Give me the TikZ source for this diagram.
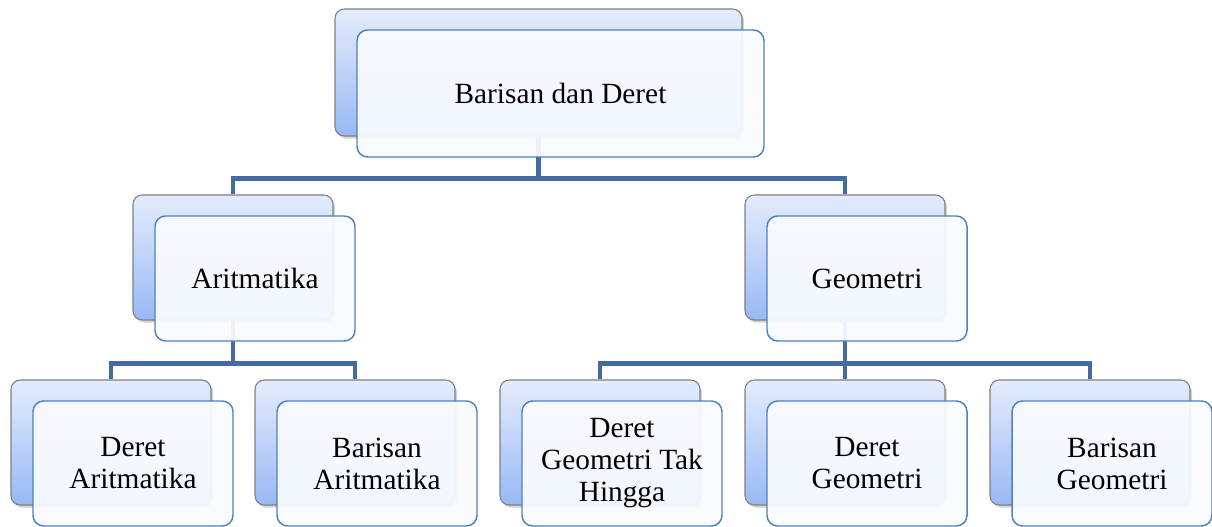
\documentclass[tikz,border=0pt]{standalone}
\usepackage{fontspec}
\setmainfont{Liberation Serif}
\usetikzlibrary{shadows}
\usetikzlibrary{backgrounds}
\definecolor{backtop}{RGB}{228,236,252}
\definecolor{backbot}{RGB}{152,185,246}
\definecolor{backline}{RGB}{128,128,128}
\definecolor{frontfill}{RGB}{249,251,255}
\definecolor{frontline}{RGB}{79,129,189}
\definecolor{linkcol}{RGB}{68,108,160}
\begin{document}
\begin{tikzpicture}[x=0.75pt,y=-0.75pt,
  back/.style={draw=backline, line width=0.8pt, rounded corners=7pt,
    top color=backtop, bottom color=backbot,
    minimum width=150pt, minimum height=93.75pt, inner sep=0pt,
    drop shadow={shadow xshift=1.5pt, shadow yshift=-2pt, opacity=0.35}},
  front/.style={draw=frontline, line width=1.1pt, rounded corners=8pt,
    fill=frontfill, fill opacity=0.93, text opacity=1,
    minimum width=150pt, minimum height=93.75pt, inner sep=0pt,
    align=center, font=\fontsize{22}{24}\selectfont,
    xshift=16.5pt, yshift=-15.75pt}, 
  link/.style={draw=linkcol, line width=3.6pt}]
  \useasboundingbox (0,0) rectangle (1212,527);
  % back boxes
  \node[back, minimum width=305.25pt, minimum height=95.25pt] (b0) at (538.5,72.5) {};
  \node[back] (b1) at (233,257.5) {};
  \node[back] (b2) at (845,257.5) {};
  \node[back] (b3) at (111,442.5) {};
  \node[back] (b4) at (355,442.5) {};
  \node[back] (b5) at (600,442.5) {};
  \node[back] (b6) at (845,442.5) {};
  \node[back] (b7) at (1090,442.5) {};
  % front boxes
  \node[front, minimum width=305.25pt, minimum height=95.25pt] (f0) at (b0) {Barisan dan Deret};
  \node[front] (f1) at (b1) {Aritmatika};
  \node[front] (f2) at (b2) {Geometri};
  \node[front] (f3) at (b3) {Deret\\Aritmatika};
  \node[front] (f4) at (b4) {Barisan\\Aritmatika};
  \node[front] (f5) at (b5) {Deret\\Geometri Tak\\Hingga};
  \node[front] (f6) at (b6) {Deret\\Geometri};
  \node[front] (f7) at (b7) {Barisan\\Geometri};
  % connectors
  \begin{scope}[on background layer]
    \draw[link] (b0.south) -- ++(0,42) coordinate (j0) -| (b1.north);
    \draw[link] (j0) -| (b2.north);
    \draw[link] (b1.south) -- ++(0,43) coordinate (j1) -| (b3.north);
    \draw[link] (j1) -| (b4.north);
    \draw[link] (b2.south) -- ++(0,43) coordinate (j2) -| (b5.north);
    \draw[link] (j2) -- (b6.north);
    \draw[link] (j2) -| (b7.north);
  \end{scope}
\end{tikzpicture}
\end{document}
